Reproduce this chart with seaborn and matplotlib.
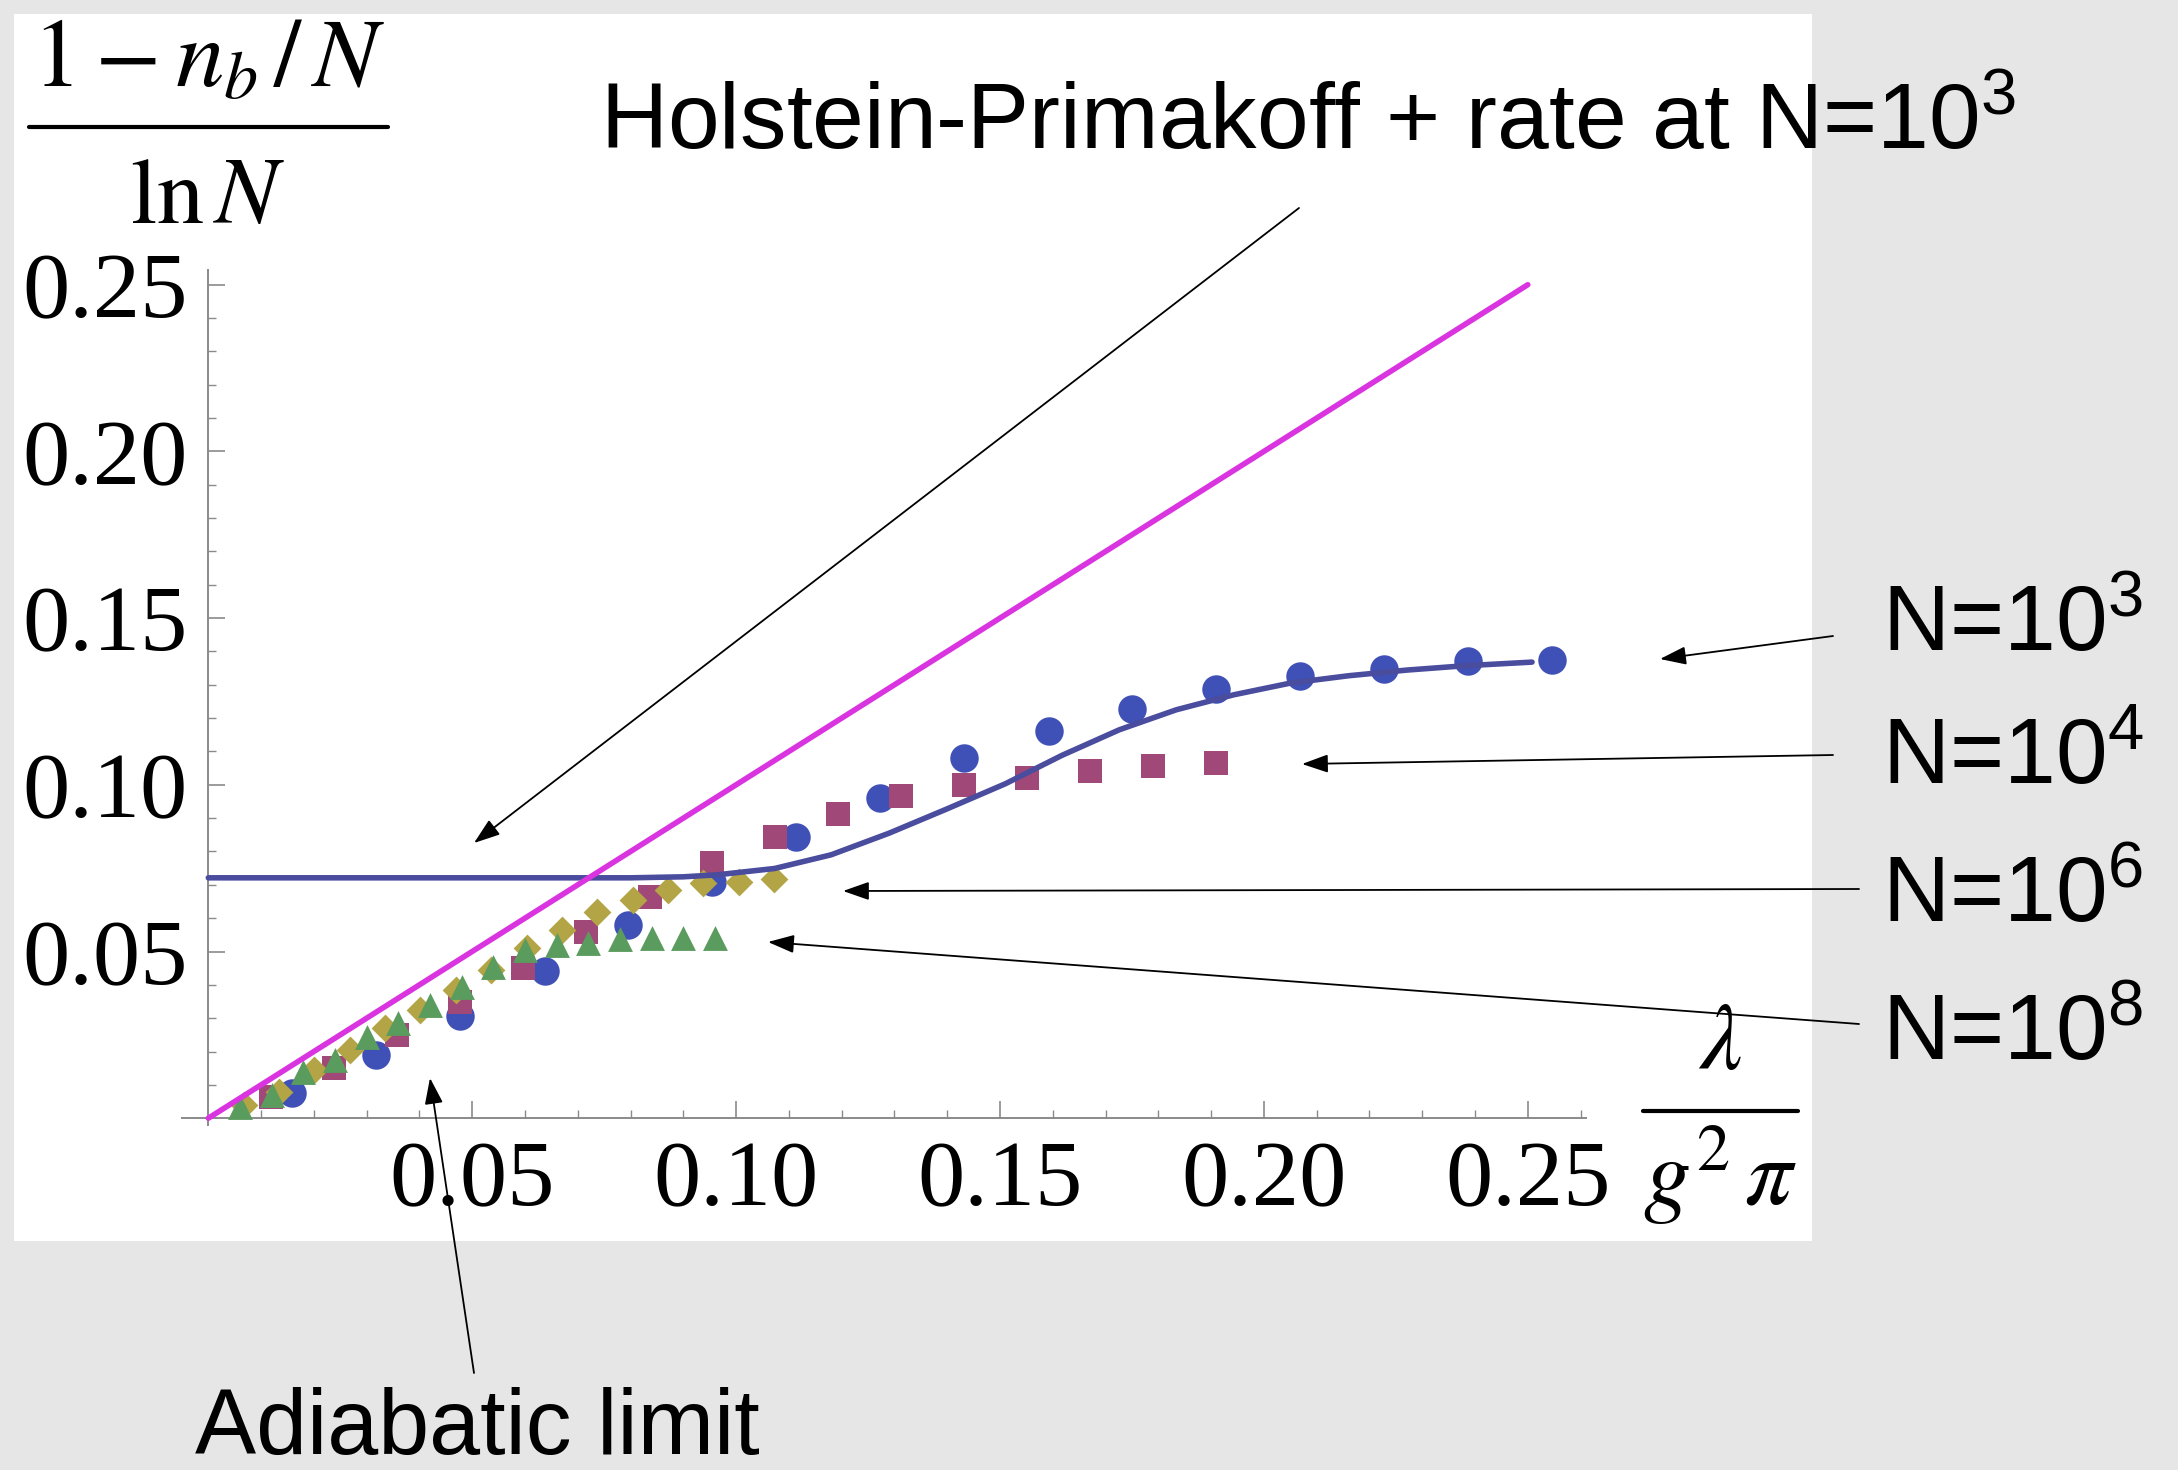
import numpy as np
import pandas as pd
import matplotlib
matplotlib.use("Agg")
import matplotlib.pyplot as plt
import seaborn as sns
from matplotlib.patches import Rectangle
from matplotlib.lines import Line2D
from matplotlib.ticker import FixedLocator, FuncFormatter

# ------------------------------------------------------------------ data
x_n1e3 = [0.0159, 0.0318, 0.0477, 0.0637, 0.0796, 0.0955, 0.1114, 0.1273,
          0.1432, 0.1592, 0.1751, 0.1910, 0.2069, 0.2228, 0.2387, 0.2546]
y_n1e3 = [0.0075, 0.0190, 0.0308, 0.0443, 0.0578, 0.0707, 0.0843, 0.0960,
          0.1080, 0.1160, 0.1227, 0.1287, 0.1326, 0.1347, 0.1370, 0.1374]

x_n1e4 = [0.0119, 0.0239, 0.0358, 0.0477, 0.0597, 0.0716, 0.0836, 0.0955,
          0.1074, 0.1194, 0.1313, 0.1432, 0.1552, 0.1671, 0.1790, 0.1910]
y_n1e4 = [0.0065, 0.0150, 0.0250, 0.0350, 0.0452, 0.0557, 0.0664, 0.0766,
          0.0844, 0.0912, 0.0966, 0.1000, 0.1020, 0.1040, 0.1056, 0.1065]

x_n1e6 = [0.0067, 0.0134, 0.0201, 0.0268, 0.0335, 0.0402, 0.0469, 0.0536,
          0.0603, 0.0670, 0.0737, 0.0804, 0.0871, 0.0938, 0.1005, 0.1072]
y_n1e6 = [0.0040, 0.0080, 0.0145, 0.0205, 0.0270, 0.0325, 0.0385, 0.0445,
          0.0510, 0.0565, 0.0617, 0.0655, 0.0685, 0.0705, 0.0709, 0.0717]

x_n1e8 = [0.0060, 0.0120, 0.0180, 0.0240, 0.0300, 0.0360, 0.0420, 0.0480,
          0.0540, 0.0600, 0.0660, 0.0720, 0.0780, 0.0840, 0.0900, 0.0960]
y_n1e8 = [0.0035, 0.0069, 0.0139, 0.0175, 0.0245, 0.0285, 0.0340, 0.0394,
          0.0455, 0.0505, 0.0520, 0.0525, 0.0537, 0.0540, 0.0540, 0.0540]

# Holstein-Primakoff + rate curve at N=10^3
hp_x = [0.0, 0.080, 0.090, 0.0964, 0.1073, 0.118, 0.129, 0.140, 0.151, 0.1617,
        0.1726, 0.1834, 0.1943, 0.205, 0.216, 0.227, 0.238, 0.2508]
hp_y = [0.0721, 0.0721, 0.0724, 0.0730, 0.0749, 0.0790, 0.0855, 0.0928, 0.1003,
        0.1088, 0.1165, 0.1225, 0.1270, 0.1305, 0.1327, 0.1344, 0.1357, 0.1368]

# adiabatic limit line
adiab_x = [0.0, 0.25]
adiab_y = [0.0, 0.25]

tick_values = [0.05, 0.10, 0.15, 0.20, 0.25]
minor_x = [0.01, 0.02, 0.03, 0.04, 0.06, 0.07, 0.08, 0.09, 0.11, 0.12, 0.13,
           0.14, 0.16, 0.17, 0.18, 0.19, 0.21, 0.22, 0.23, 0.24, 0.26]
minor_y = [0.01, 0.02, 0.03, 0.04, 0.06, 0.07, 0.08, 0.09, 0.11, 0.12, 0.13,
           0.14, 0.16, 0.17, 0.18, 0.19, 0.21, 0.22, 0.23, 0.24]
series_labels = ["N=$\\mathregular{10^3}$", "N=$\\mathregular{10^4}$",
                 "N=$\\mathregular{10^6}$", "N=$\\mathregular{10^8}$"]

# ------------------------------------------------------------------ style
sns.set_theme(style="white")
plt.rcParams["font.family"] = ["Liberation Sans", "DejaVu Sans"]

W, H = 2178, 1470
fig = plt.figure(figsize=(W / 100, H / 100), dpi=100, facecolor="#e6e6e6")

# white panel
fig.patches.append(Rectangle((14 / W, 1 - 1241 / H), (1812 - 14) / W, (1241 - 14) / H,
                             transform=fig.transFigure, facecolor="white",
                             edgecolor="none", zorder=-5))

# axes placement (pixel geometry of the reference)
x0_px, y0_px = 208.3, 1118.2       # data origin
sx, sy = 5278.0, 3334.0            # px per data unit
xlim = (-0.005, 0.261)
ylim = (-0.002, 0.2545)
left = x0_px + sx * xlim[0]
right = x0_px + sx * xlim[1]
bottom = y0_px - sy * ylim[0]
top = y0_px - sy * ylim[1]
ax = fig.add_axes([left / W, 1 - bottom / H, (right - left) / W, (bottom - top) / H])
ax.set_facecolor("none")
ax.set_zorder(1)

c_blue = "#3f50b6"
c_mauve = "#a04878"
c_olive = "#b3a445"
c_green = "#5a9b5e"
c_line = "#4a4c9e"
c_mag = "#d934e0"

sns.scatterplot(x=x_n1e3, y=y_n1e3, ax=ax, marker="o", s=420, color=c_blue,
                linewidth=0, zorder=3)
sns.scatterplot(x=x_n1e4, y=y_n1e4, ax=ax, marker="s", s=310, color=c_mauve,
                linewidth=0, zorder=3)
sns.scatterplot(x=x_n1e6, y=y_n1e6, ax=ax, marker="D", s=200, color=c_olive,
                linewidth=0, zorder=3)
sns.scatterplot(x=x_n1e8, y=y_n1e8, ax=ax, marker="^", s=320, color=c_green,
                linewidth=0, zorder=3)

sns.lineplot(x=hp_x, y=hp_y, ax=ax, color=c_line, linewidth=4.0, zorder=4,
             sort=False, estimator=None)
sns.lineplot(x=adiab_x, y=adiab_y, ax=ax, color=c_mag, linewidth=4.0, zorder=5,
             sort=False, estimator=None)

ax.set_xlim(*xlim)
ax.set_ylim(*ylim)
for s in ["top", "right"]:
    ax.spines[s].set_visible(False)
ax.spines["left"].set_position(("data", 0))
ax.spines["bottom"].set_position(("data", 0))
for s in ["left", "bottom"]:
    ax.spines[s].set_color("#8a8a8a")
    ax.spines[s].set_linewidth(1.4)

ax.xaxis.set_major_locator(FixedLocator(tick_values))
ax.yaxis.set_major_locator(FixedLocator(tick_values))
ax.xaxis.set_minor_locator(FixedLocator(minor_x))
ax.yaxis.set_minor_locator(FixedLocator(minor_y))
fmt = FuncFormatter(lambda v, p: f"{v:.2f}")
ax.xaxis.set_major_formatter(fmt)
ax.yaxis.set_major_formatter(fmt)
ax.tick_params(which="major", direction="in", length=12, width=1.2, color="#8a8a8a",
               labelsize=68, bottom=True, left=True)
ax.tick_params(which="minor", direction="in", length=6, width=1.0, color="#8a8a8a",
               bottom=True, left=True)
ax.tick_params(axis="x", which="major", pad=16)
ax.tick_params(axis="y", which="major", pad=15)
for lab in ax.get_xticklabels() + ax.get_yticklabels():
    lab.set_fontfamily("Liberation Serif")
    lab.set_color("black")
ax.set_xlabel("")
ax.set_ylabel("")
ax.grid(False)


def fx(px):
    return px / W


def fy(py):
    return 1 - py / H


# y-axis label as fraction
fig.text(fx(209), fy(86), r"$1 - n_b\,/\,N$", ha="center", va="baseline",
         fontsize=70, math_fontfamily="stix", color="black")
fig.add_artist(Line2D([fx(29), fx(388)], [fy(127), fy(127)], transform=fig.transFigure,
                      color="black", linewidth=3))
fig.text(fx(208), fy(223), r"$\ln N$", ha="center", va="baseline",
         fontsize=68, math_fontfamily="stix", color="black")

# x-axis label as fraction
fig.text(fx(1720), fy(1069), r"$\lambda$", ha="center", va="baseline",
         fontsize=68, math_fontfamily="stix", color="black")
fig.add_artist(Line2D([fx(1643), fx(1798)], [fy(1111), fy(1111)], transform=fig.transFigure,
                      color="black", linewidth=3))
fig.text(fx(1720), fy(1205), r"$g^2\,\pi$", ha="center", va="baseline",
         fontsize=68, math_fontfamily="stix", color="black")

# annotations
fig.text(fx(600), fy(149), r"Holstein-Primakoff + rate at N=$\mathregular{10^3}$",
         ha="left", va="baseline", fontsize=67, color="black")
label_baselines = [651, 784, 922, 1060]
for lab, b in zip(series_labels, label_baselines):
    fig.text(fx(1882), fy(b), lab, ha="left", va="baseline", fontsize=67, color="black")
fig.text(fx(195), fy(1454), "Adiabatic limit", ha="left", va="baseline",
         fontsize=66, color="black")

arrows = [
    ((1299, 208), (474, 843)),     # HP
    ((1833, 636), (1660, 659)),    # N=10^3
    ((1833, 755), (1302, 764)),    # N=10^4
    ((1859, 889), (843, 891)),     # N=10^6
    ((1859, 1024), (768, 942)),    # N=10^8
    ((474, 1373), (430, 1078)),    # adiabatic
]
for (tx, ty), (hx, hy) in arrows:
    ax.annotate("", xy=(hx, H - hy), xytext=(tx, H - ty),
                xycoords="figure pixels", textcoords="figure pixels",
                arrowprops=dict(arrowstyle="-|>,head_length=0.8,head_width=0.28",
                                mutation_scale=20, lw=1.3, color="black",
                                shrinkA=0, shrinkB=0),
                annotation_clip=False, zorder=6)

fig.savefig("out.png", dpi=100, facecolor=fig.get_facecolor())
